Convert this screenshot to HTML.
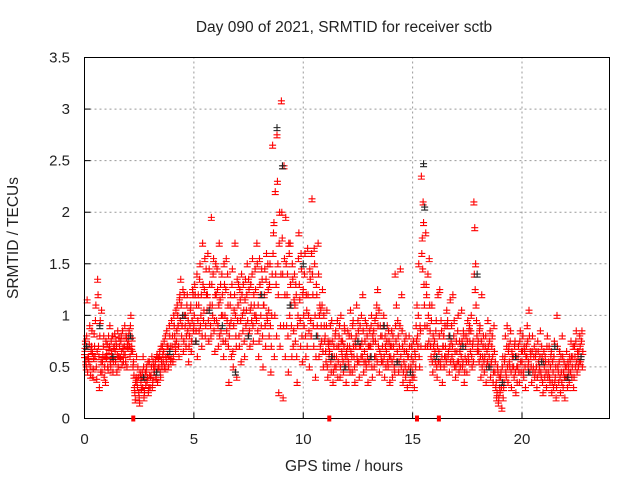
<!DOCTYPE html>
<html><head><meta charset="utf-8"><style>
body{margin:0;background:#fff}
svg{display:block;font-family:"Liberation Sans",sans-serif}
</style></head><body>
<svg id="chart" width="640" height="480">
<text x="344" y="32" font-size="15.5" text-anchor="middle" fill="#222">Day 090 of 2021, SRMTID for receiver sctb</text>
<text x="344" y="471" font-size="15.5" text-anchor="middle" fill="#222">GPS time / hours</text>
<text x="0" y="0" font-size="15.5" text-anchor="middle" fill="#222" transform="translate(18,238) rotate(-90)">SRMTID / TECUs</text>
<g id="grid"></g>
<g id="ticks"></g>
<g id="red"></g>
<g id="black"></g>
<rect x="84.5" y="57.5" width="525" height="361" fill="none" stroke="#000" stroke-width="1"/>
<g id="marks"></g>
</svg>
<script>
const xTicks=[0,5,10,15,20];
const yTicks=[0,0.5,1,1.5,2,2.5,3,3.5];
const yTickLabels=["0","0.5","1","1.5","2","2.5","3","3.5"];
const gapTimes=[2.23,11.19,15.2,16.2];
const redBins=[0,0.2,0.4,0.6,0.8,1.0,1.2,1.4,1.6,1.8,2.0,2.2,2.4,2.6,2.8,3.0,3.2,3.4,3.6,3.8,4.0,4.2,4.4,4.6,4.8,5.0,5.2,5.4,5.6,5.8,6.0,6.2,6.4,6.6,6.8,7.0,7.2,7.4,7.6,7.8,8.0,8.2,8.4,8.6,8.8,9.0,9.2,9.4,9.6,9.8,10.0,10.2,10.4,10.6,10.8,11.0,11.2,11.4,11.6,11.8,12.0,12.2,12.4,12.6,12.8,13.0,13.2,13.4,13.6,13.8,14.0,14.2,14.4,14.6,14.8,15.0,15.2,15.4,15.6,15.8,16.0,16.2,16.4,16.6,16.8,17.0,17.2,17.4,17.6,17.8,18.0,18.2,18.4,18.6,18.8,19.0,19.2,19.4,19.6,19.8,20.0,20.2,20.4,20.6,20.8,21.0,21.2,21.4,21.6,21.8,22.0,22.2,22.4,22.6];
const redVals=[
[.62,.75,.5,1.15,.58],[.55,.9,.42,.7,.63],[.48,.82,.6,1.1,.38],[1.35,.7,.3,.95,.55],[.45,.62,.8,.5,.35],
[.58,.72,.47,.66,.9],[.5,.62,.8,.55,.7],[.65,.75,.45,.85,.6],[.7,.58,.8,.52,.68],[.62,.9,.55,.78,.72],
[.75,.85,.6,1.0,.7],[.65,.55,.3,.18,.4],[.35,.5,.25,.15,.42],[.28,.45,.6,.2,.38],[.32,.5,.4,.25,.55],
[.3,.42,.6,.35,.5],[.45,.55,.38,.62,.48],[.5,.65,.4,.55,.7],[.55,.75,.48,.6,.85],[.62,.5,.9,.7,.58],
[.7,.55,1.0,.8,.65],[.75,1.1,.9,.6,1.2],[1.35,.8,1.0,.65,1.2],[.9,.7,1.1,.85,.55],[.8,1.05,.65,.95,1.2],
[.9,1.3,.75,1.1,.6],[1.2,.85,1.5,1.0,.7],[1.7,.95,1.25,.8,1.45],[1.05,1.6,.75,1.3,.9],[1.95,1.1,1.4,.85,.65],
[1.5,.95,1.25,.7,1.7],[1.15,.85,1.4,1.0,.6],[1.3,.75,1.55,.95,1.1],[.35,.9,1.2,.6,1.45],[.5,1.05,1.7,.8,.4],
[.95,1.3,.7,1.15,.55],[1.2,.85,1.05,.6,1.35],[1.05,1.5,.8,1.25,.7],[1.3,.95,1.55,.75,1.1],[1.45,1.0,1.7,.85,.6],
[1.55,1.2,.9,1.35,.5],[1.1,1.45,.7,1.6,.95],[1.25,.8,1.5,.45,1.0],[2.65,1.8,.6,2.2,1.3],[2.75,1.5,.25,2.0,.9],
[3.08,1.75,.2,2.45,1.2],[1.95,.9,1.4,.45,1.6],[1.7,1.1,.6,1.35,.85],[1.4,.75,1.2,.35,1.0],[1.8,1.15,.7,1.45,.55],
[1.25,.9,1.6,.6,1.05],[1.65,1.0,.5,1.35,.8],[2.13,1.2,.7,1.5,.4],[1.3,.9,1.7,.6,1.1],[1.05,.75,1.25,.5,.9],
[.8,.55,1.05,.4,.7],[.65,.9,.45,.75,.35],[.7,.5,.85,.6,.95],[.55,.8,.4,1.0,.65],[.75,.45,.9,.6,.35],
[.6,.85,.5,.7,1.05],[.8,.45,.95,.6,.35],[.7,1.1,.55,.85,.4],[.9,.6,.75,1.2,.45],[.65,.95,.5,.8,.35],
[.55,.85,.7,1.0,.4],[.75,.5,.95,.6,1.1],[1.25,.7,.45,.9,.6],[.8,.55,1.0,.4,.7],[.65,.9,.5,.75,.35],
[.6,.85,.4,.7,.5],[1.4,.75,.55,.95,.45],[.7,1.45,.5,.85,.35],[.55,.75,.4,.65,.3],[.6,.8,.35,.5,.7],
[.45,.75,.3,.6,.9],[1.1,.7,1.5,.5,.85],[2.35,1.75,2.1,1.3,.9],[1.8,1.2,.7,1.0,1.55],[.85,.6,1.1,.45,.7],
[.75,.55,.95,.4,1.2],[.65,1.25,.5,.85,.35],[.7,.5,.9,.6,1.05],[.95,.65,.45,1.15,.75],[.6,1.2,.8,.5,.4],
[.75,.55,1.0,.45,.65],[.7,1.05,.5,.85,.35],[.6,.8,.45,.95,.55],[.9,.65,1.0,.5,.75],[2.1,1.85,1.5,.95,.65],
[.75,.55,.9,.4,1.2],[.6,.8,.45,.7,.35],[.65,.95,.5,.75,.4],[.55,.8,.35,.9,.45],[.3,.2,.5,.15,.4],
[.25,.45,.1,.6,.3],[.55,.8,.4,.9,.35],[.7,.5,.85,.3,.6],[.6,.4,.75,.25,.5],[.5,.7,.35,.85,.45],
[.55,.8,.4,.65,.3],[.7,.9,.5,1.05,.45],[.6,.35,.8,.5,.7],[.45,.65,.3,.75,.55],[.5,.85,.4,.6,.25],
[.65,.4,.55,.3,.8],[.45,.7,.35,.6,.25],[.55,.3,.75,.4,.2],[1.0,.5,.35,.65,.25],[.45,.8,.3,.55,.2],
[.4,.65,.3,.5,.35],[.55,.75,.4,.6,.3],[.7,.5,.85,.45,.6],[.65,.8,.55,.75,.5]];
const redVals2=[
[.68,.55,.8,.45,.6],[.72,.5,.65,.85,.4],[.58,.7,.95,.5,.65],[1.2,.6,.8,.45,1.05],[.55,.7,.4,.6,.75],
[.62,.5,.8,.7,.55],[.75,.58,.45,.68,.82],[.55,.7,.62,.5,.78],[.6,.75,.65,.85,.55],[.7,.62,.8,.5,.68],
[.8,.7,.9,.65,.78],[.5,.42,.25,.35,.6],[.3,.4,.2,.45,.35],[.4,.3,.5,.25,.45],[.45,.35,.55,.3,.42],
[.4,.5,.3,.55,.45],[.5,.4,.6,.35,.58],[.6,.45,.7,.5,.62],[.65,.5,.8,.55,.7],[.7,.6,.8,.55,.95],
[.8,.6,.9,.72,1.05],[.85,1.0,.7,1.15,.95],[1.1,.9,1.25,.75,1.0],[1.0,.8,1.2,.95,.7],[.9,1.1,.75,1.25,.85],
[1.0,1.2,.85,1.4,.95],[1.1,1.35,.9,1.2,.8],[1.3,1.05,1.55,.9,1.2],[1.2,.95,1.45,1.1,.8],[1.3,1.0,1.55,.95,1.2],
[1.2,1.45,.9,1.1,.8],[1.3,1.0,1.2,.75,1.5],[1.0,1.25,.85,1.4,.7],[.8,1.1,.95,1.3,.65],[.9,1.2,1.0,.7,1.35],
[1.1,.8,1.25,.95,1.4],[1.0,1.3,.75,1.15,.9],[1.2,.95,1.35,.85,1.05],[1.1,1.4,.9,1.2,1.0],[1.25,.95,1.5,1.1,.75],
[1.3,1.0,1.45,.8,1.1],[1.2,.9,1.35,1.0,1.5],[1.05,1.3,.9,.7,1.4],[1.6,1.9,1.0,1.4,.8],[2.3,1.2,1.7,.7,1.4],
[2.0,1.4,.9,1.55,.6],[1.5,1.2,.8,1.7,1.0],[1.3,.9,1.5,.7,1.15],[1.1,1.3,.6,.9,1.55],[1.3,.95,1.6,.8,1.2],
[1.0,1.4,.8,1.2,.7],[1.2,.85,1.45,.95,1.6],[1.4,.9,1.65,1.0,.6],[1.2,.8,1.4,1.0,.7],[.9,1.1,.65,1.0,.75],
[.65,.9,.5,.75,.6],[.75,.55,.95,.6,.45],[.6,.8,.5,.7,.4],[.7,.9,.5,.75,.6],[.55,.7,.85,.5,.65],
[.7,.55,.8,.45,.65],[.6,.9,.7,.5,.75],[.8,.6,.95,.55,.7],[.7,1.0,.6,.85,.55],[.75,.55,.9,.6,.7],
[.7,.6,.9,.5,.8],[.85,.6,.75,1.0,.55],[.9,1.05,.65,.8,.55],[.7,.9,.6,.8,.5],[.75,.55,.85,.6,.7],
[.7,.55,.8,.6,.45],[.9,1.1,.65,.8,.55],[.9,.6,1.2,.7,.45],[.65,.5,.8,.45,.6],[.5,.7,.45,.6,.4],
[.55,.4,.65,.5,.75],[.8,1.0,.6,.9,.7],[1.6,1.45,1.9,1.1,.7],[1.3,.9,1.4,.75,1.1],[.7,.95,.55,.8,.6],
[.65,.85,.5,.7,.55],[.8,.55,.95,.6,.7],[.8,.6,.7,.55,.9],[.6,.8,.7,.55,.9],[.7,.55,.95,.65,.5],
[.65,.85,.55,.75,.5],[.6,.75,.55,.8,.45],[.7,.55,.75,.6,.85],[.75,.85,.6,.7,.55],[1.4,1.25,1.1,.8,.7],
[.65,.85,.6,.75,.5],[.7,.55,.6,.8,.5],[.55,.7,.6,.85,.5],[.7,.6,.45,.65,.55],[.35,.25,.45,.2,.3],
[.4,.3,.5,.2,.35],[.6,.45,.7,.5,.65],[.55,.75,.45,.65,.5],[.5,.7,.45,.6,.35],[.6,.45,.75,.55,.65],
[.65,.45,.7,.5,.6],[.6,.75,.55,.8,.65],[.5,.65,.45,.6,.4],[.6,.5,.4,.65,.45],[.6,.45,.7,.35,.55],
[.5,.6,.45,.7,.4],[.55,.4,.5,.65,.35],[.45,.6,.35,.5,.3],[.7,.45,.55,.4,.6],[.35,.6,.45,.4,.5],
[.5,.4,.55,.45,.6],[.45,.6,.5,.7,.4],[.6,.75,.55,.65,.5],[.55,.7,.6,.85,.65]];
const blackTimes=[0.1,0.7,1.3,2.1,2.7,3.3,3.9,4.5,5.1,5.7,6.3,6.9,7.5,8.1,8.8,9.05,9.4,10.0,10.6,11.3,11.9,12.5,13.1,13.7,14.3,14.9,15.5,15.55,16.1,16.7,17.3,17.95,18.5,19.1,19.7,20.3,20.9,21.5,22.1,22.7];
const blackVals=[.7,.9,.6,.8,.4,.45,.65,1.0,.75,1.05,.9,.45,.8,1.2,2.82,2.45,1.1,1.5,.8,.6,.5,.75,.6,.9,.55,.45,2.47,2.05,.6,.8,.7,1.4,.5,.35,.6,.45,.55,.7,.4,.6];
const NS='http://www.w3.org/2000/svg';
const X0=84.5,X1=609.5,Y0=418.5,Y1=57.5,XMAX=24,YMAX=3.5;
function xs(h){return X0+(X1-X0)*h/XMAX;}
function ys(v){return Y0-(Y0-Y1)*v/YMAX;}
function mk(tag,attrs,parent){const e=document.createElementNS(NS,tag);for(const k in attrs)e.setAttribute(k,attrs[k]);parent.appendChild(e);return e;}
const grid=document.getElementById('grid'),ticks=document.getElementById('ticks');
xTicks.forEach(t=>{
  const x=xs(t);
  if(t>0){const g=mk('line',{x1:x,x2:x,y1:Y0,y2:Y1,stroke:'#999','stroke-dasharray':'2,3'},grid);
  
  }
  const tk=mk('line',{x1:x,x2:x,y1:Y0,y2:Y0-6,stroke:'#000'},ticks);
  
  
  const lb=mk('text',{x:x,y:444,'font-size':15,'text-anchor':'middle',fill:'#222'},ticks);
  lb.textContent=String(t);
  
  
});
yTicks.forEach((t,i)=>{
  const y=ys(t);
  if(t>0&&t<YMAX){const g=mk('line',{x1:X0,x2:X1,y1:y,y2:y,stroke:'#999','stroke-dasharray':'2,3'},grid);
  
  }
  const tk=mk('line',{x1:X0,x2:X0+6,y1:y,y2:y,stroke:'#000'},ticks);
  
  
  const lb=mk('text',{x:70,y:y+5,'font-size':15,'text-anchor':'end',fill:'#222'},ticks);
  lb.textContent=yTickLabels[i];
  
  
});
function plus(x,y,col,parent,name){
  const p=mk('path',{d:`M${x-3.5},${y}h7M${x},${y-3.5}v7M${x-3.5},${y+3}h7`,stroke:col,'stroke-width':1.1,fill:'none'},parent);
  
  
}
const red=document.getElementById('red');
redBins.forEach((b,i)=>{
  redVals[i].forEach((v,j)=>{plus(xs(b+j*0.04),ys(v),'#f00',red,'red-point');});
  redVals2[i].forEach((v,j)=>{plus(xs(b+0.02+j*0.04),ys(v),'#f00',red,'red-point');});
});
const black=document.getElementById('black');
blackTimes.forEach((t,i)=>plus(xs(t),ys(blackVals[i]),'#222',black,'black-point'));
const marks=document.getElementById('marks');
gapTimes.forEach(t=>{
  const r=mk('rect',{x:xs(t)-2,y:Y0-3,width:4,height:6,fill:'#f00'},marks);
  
  
});
</script>
</body></html>
